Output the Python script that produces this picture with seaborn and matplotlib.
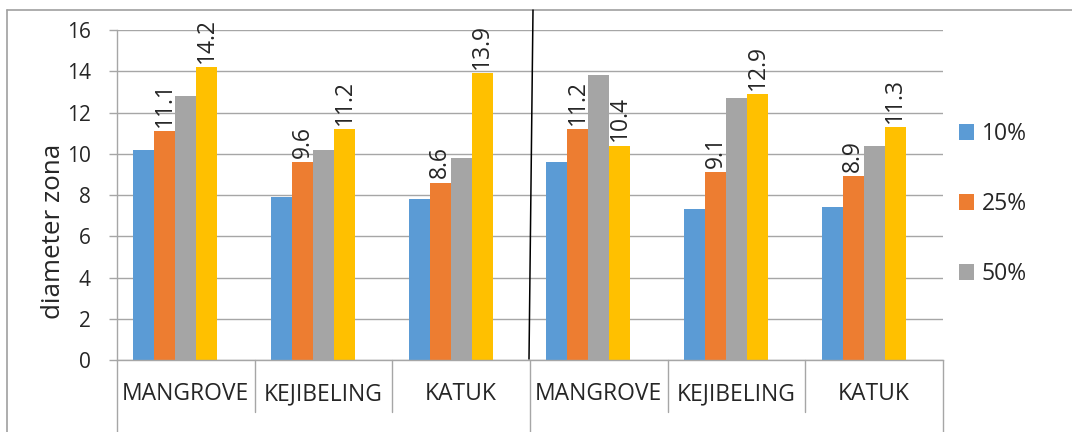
import numpy as np
import pandas as pd
import seaborn as sns
import matplotlib.pyplot as plt
from matplotlib.lines import Line2D
from matplotlib.patches import Patch
from matplotlib.transforms import blended_transform_factory

# ---- data -------------------------------------------------------------
plants = ["MANGROVE", "KEJIBELING", "KATUK"]
sets = ["I", "II"]
levels = ["10%", "25%", "50%", "75%", "100%"]
colors = ["#5B9BD5", "#ED7D31", "#A5A5A5", "#FFC000", "#4472C4"]

v10 = [10.2, 7.9, 7.8, 9.6, 7.3, 7.4]
v25 = [11.1, 9.6, 8.6, 11.2, 9.1, 8.9]
v50 = [12.8, 10.2, 9.8, 13.8, 12.7, 10.4]
v75 = [14.2, 11.2, 13.9, 10.4, 12.9, 11.3]

yticks = [0, 2, 4, 6, 8, 10, 12, 14, 16]

# ---- long-form table --------------------------------------------------
keys = [f"{s}-{p}" for s in sets for p in plants]
tick_labels = [p for s in sets for p in plants]
rows = []
for lvl, vals in zip(levels[:4], [v10, v25, v50, v75]):
    for k, v in zip(keys, vals):
        rows.append({"key": k, "level": lvl, "value": v})
df = pd.DataFrame(rows)

# ---- figure -----------------------------------------------------------
sns.set_theme(style="white")
plt.rcParams["font.family"] = ["Open Sans", "DejaVu Sans"]

W, H = 1072, 432
fig = plt.figure(figsize=(W / 100, H / 100), dpi=100)
ax = fig.add_axes([117 / W, (H - 360) / H, (943 - 117) / W, 330 / H])

grid_c = "#a6a6a6"
sns.barplot(data=df, x="key", y="value", hue="level", order=keys,
            hue_order=levels, palette=dict(zip(levels, colors)),
            width=0.763, errorbar=None, saturation=1, linewidth=0,
            legend=False, ax=ax)

ax.set_xlim(-0.5, len(keys) - 0.5)
ax.set_ylim(0, 16)
ax.set_yticks(yticks)
ax.set_yticklabels([str(t) for t in yticks], fontsize=15)
ax.yaxis.grid(True, color=grid_c, linewidth=1.0)
ax.set_axisbelow(True)
ax.tick_params(axis="y", length=5.8, width=1.0, color=grid_c, pad=13,
               left=True)
ax.set_xticks(range(len(keys)))
ax.set_xticklabels(tick_labels, fontsize=16.5)
ax.tick_params(axis="x", length=0, pad=16)
ax.set_xlabel("")
ax.set_ylabel("diameter zona", fontsize=18.7)
ax.yaxis.set_label_coords(-0.0617, 0.39)

for side in ["top", "right"]:
    ax.spines[side].set_visible(False)
for side in ["left", "bottom"]:
    ax.spines[side].set_color(grid_c)
    ax.spines[side].set_linewidth(1.0)

# value labels on the 25% and 75% series
for idx in (1, 3):
    ax.bar_label(ax.containers[idx], fmt="%.1f", rotation=90, padding=3,
                 fontsize=16.5)

# category separators below the axis
trans = blended_transform_factory(ax.transData, ax.transAxes)
for i in range(len(keys) + 1):
    xb = i - 0.5
    y_end = -72 / 330 if i % 3 == 0 else -52 / 330
    ax.add_line(Line2D([xb, xb], [0, y_end], transform=trans,
                       color=grid_c, linewidth=1.0, clip_on=False))

# chart frame and divider
fx = lambda px: px / W
fy = lambda py: 1 - py / H
fig.add_artist(Line2D([fx(7), fx(7)], [fy(10), 0], color="#a0a0a0",
                      linewidth=1.2, transform=fig.transFigure))
fig.add_artist(Line2D([fx(7), 1], [fy(10), fy(10)], color="#a0a0a0",
                      linewidth=1.2, transform=fig.transFigure))
fig.add_artist(Line2D([fx(533), fx(529)], [fy(10), fy(359)], color="black",
                      linewidth=1.1, transform=fig.transFigure))

# legend
handles = [Patch(facecolor=c, edgecolor="none") for c in colors[:3]]
fig.legend(handles, levels[:3], loc="center left",
           bbox_to_anchor=(fx(959), fy(204)), frameon=False,
           fontsize=16.5, handlelength=0.66, handleheight=0.66,
           handletextpad=0.33, labelspacing=2.0, borderpad=0,
           borderaxespad=0)

fig.savefig("out.png", dpi=100)
